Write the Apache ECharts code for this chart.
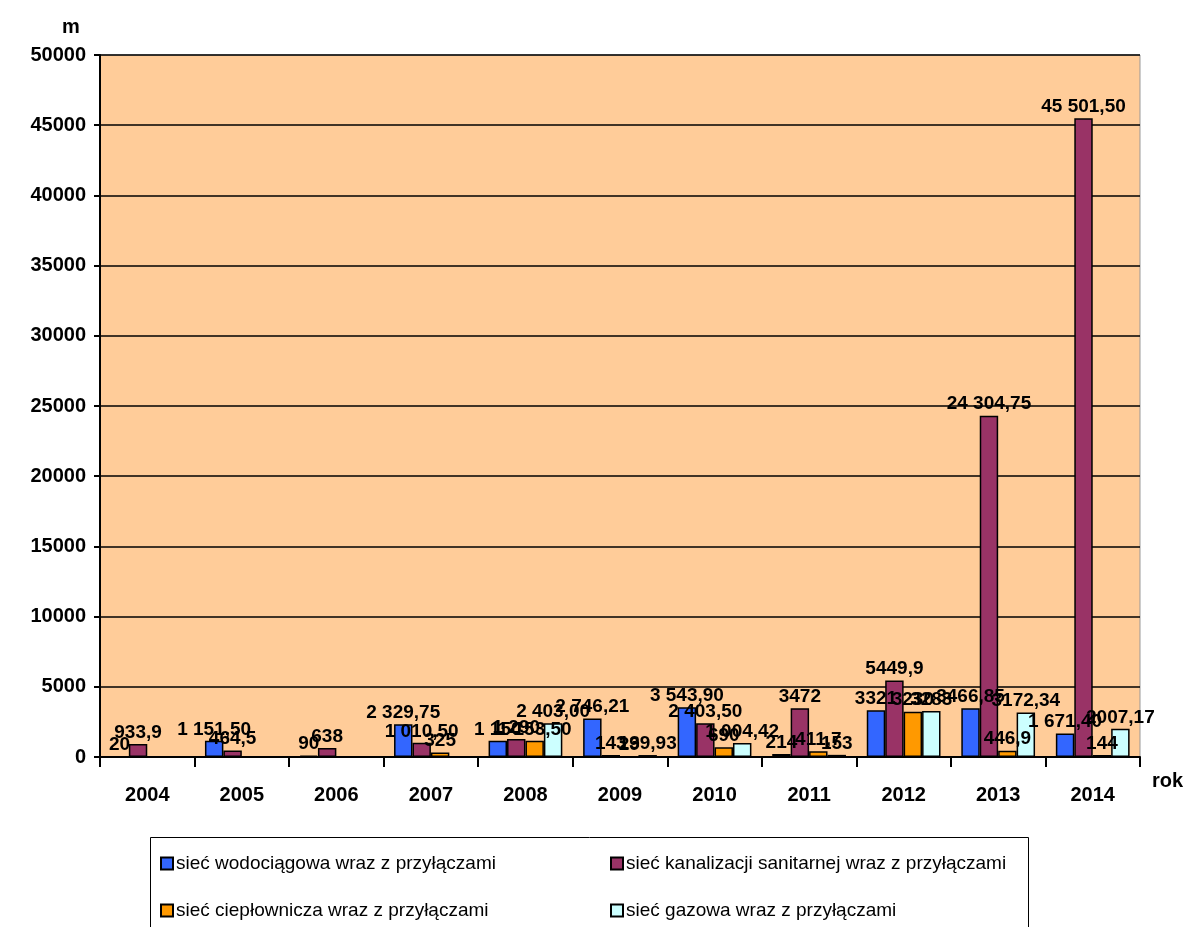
<!DOCTYPE html>
<html><head><meta charset="utf-8">
<script src="https://cdn.jsdelivr.net/npm/echarts@6/dist/echarts.min.js"></script>
<style>html,body{margin:0;padding:0;background:#fff}#c{width:1189px;height:927px}</style>
</head><body><div id="c"></div>
<script>
const categories = ['2004','2005','2006','2007','2008','2009','2010','2011','2012','2013','2014'];
const yTicks = [0,5000,10000,15000,20000,25000,30000,35000,40000,45000,50000];
const waterValues = [20, 1151.5, 90, 2329.75, 1150, 2746.21, 3543.9, 214, 3321, 3466.85, 1671.4];
const waterLabels = ['20','1 151,50','90','2 329,75','1 150','2 746,21','3 543,90','214','3321','3466,85','1 671,40'];
const sewerValues = [933.9, 464.5, 638, 1010.5, 1290, 143, 2403.5, 3472, 5449.9, 24304.75, 45501.5];
const sewerLabels = ['933,9','464,5','638','1 010,50','1 290','143','2 403,50','3472','5449,9','24 304,75','45 501,50'];
const heatValues = [null, null, null, 325, 1153.5, 29, 690, 411.7, 3230, 446.9, 144];
const heatLabels = ['','','','325','1 153,50','29','690','411,7','3230','446,9','144'];
const gasValues = [null, null, null, null, 2403, 139.93, 1004.42, 153, 3283, 3172.34, 2007.17];
const gasLabels = ['','','','','2 403,00','139,93','1 004,42','153','3283','3172,34','2007,17'];
const seriesNames = ['sieć wodociągowa wraz z przyłączami','sieć kanalizacji sanitarnej wraz z przyłączami','sieć ciepłownicza wraz z przyłączami','sieć gazowa wraz z przyłączami'];
const colors = ['#3366FF','#993366','#FF9900','#CCFFFF'];

const FONT = '"Liberation Sans", Arial, sans-serif';
const vals = [waterValues, sewerValues, heatValues, gasValues];
const lbls = [waterLabels, sewerLabels, heatLabels, gasLabels];

const chart = echarts.init(document.getElementById('c'));
const series = vals.map((v, i) => ({
  name: seriesNames[i], type: 'bar', data: v,
  barGap: '0%', barCategoryGap: '22%',
  itemStyle: {color: colors[i], borderColor: '#000', borderWidth: 1.5},
  label: {show: true, position: 'top', distance: 2, color: '#000', fontWeight: 'bold',
    fontFamily: FONT, fontSize: 19,
    formatter: p => lbls[i][p.dataIndex]}
}));
const legendPos = [[155,849],[605,849],[155,896],[605,896]];
const legends = seriesNames.map((n, i) => ({
  data: [n], left: legendPos[i][0], top: legendPos[i][1],
  itemWidth: 12, itemHeight: 12, itemGap: 4,
  icon: 'rect',
  textStyle: {fontFamily: FONT, fontSize: 19, color: '#000', padding: [0,0,0,-2]}
}));
chart.setOption({
  animation: false,
  backgroundColor: '#fff',
  grid: {left: 100, right: 49, top: 55, bottom: 170, show: true, backgroundColor: '#FFCC99', borderColor: '#999', borderWidth: 1},
  legend: legends,
  graphic: [{type: 'rect', shape: {x: 150.5, y: 837.5, width: 878, height: 100}, style: {fill: 'none', stroke: '#000', lineWidth: 1}, z: -1}],
  xAxis: {type: 'category', data: categories, name: 'rok', nameLocation: 'end', nameGap: 12,
    nameTextStyle: {fontFamily: FONT, fontSize: 20, fontWeight: 'bold', color: '#000', verticalAlign: 'top', padding: [14,0,0,0]},
    axisLine: {lineStyle: {color: '#000', width: 2}},
    axisTick: {show: true, length: 10, lineStyle: {color: '#000', width: 2}},
    axisLabel: {fontFamily: FONT, fontSize: 20, fontWeight: 'bold', color: '#000', margin: 28}},
  yAxis: {type: 'value', min: yTicks[0], max: yTicks[yTicks.length-1], interval: 5000, name: 'm',
    nameLocation: 'end', nameGap: 18,
    nameTextStyle: {fontFamily: FONT, fontSize: 20, fontWeight: 'bold', color: '#000', padding: [0,58,0,0]},
    axisLine: {show: true, lineStyle: {color: '#000', width: 2}},
    axisTick: {show: true, length: 6, lineStyle: {color: '#000', width: 2}},
    axisLabel: {fontFamily: FONT, fontSize: 20, fontWeight: 'bold', color: '#000', margin: 14, formatter: v => String(v)},
    splitLine: {lineStyle: {color: '#000', width: 1.5}}},
  series
});
</script></body></html>
